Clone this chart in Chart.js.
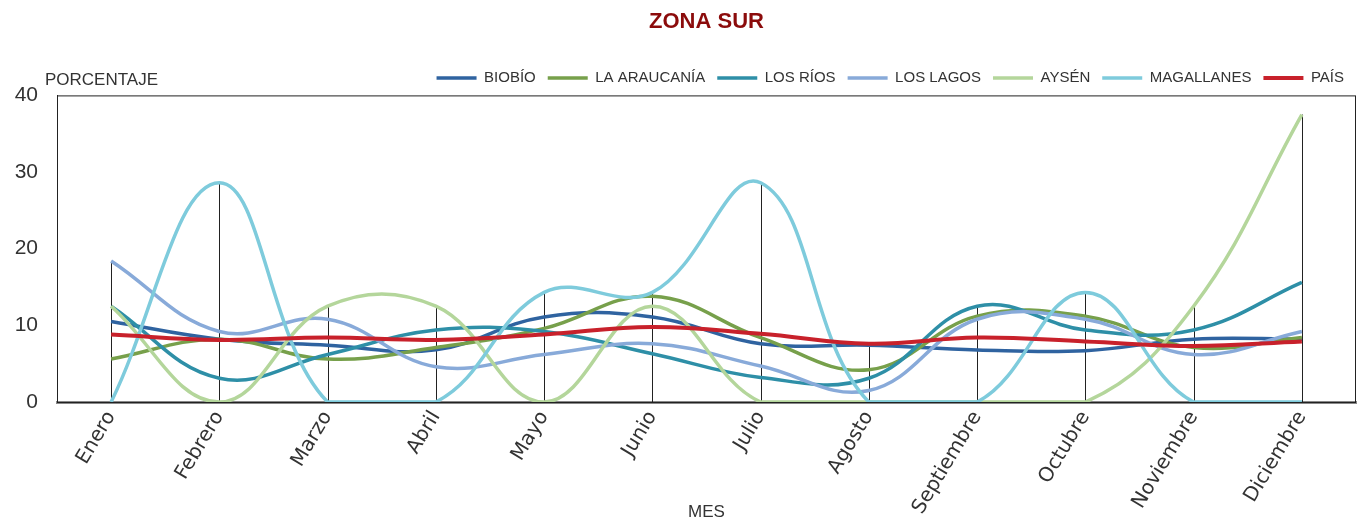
<!DOCTYPE html>
<html lang="es">
<head>
<meta charset="utf-8">
<title>Zona Sur</title>
<script src="https://cdn.jsdelivr.net/npm/chart.js@4.4.1/dist/chart.umd.min.js"></script>
<style>
  html, body { margin: 0; padding: 0; background: #fff; }
  #contenedor { width: 1358px; height: 523px; }
</style>
</head>
<body>
<div id="contenedor"><canvas id="graficoZonaSur"></canvas></div>
<script>
// porcentaje mensual de cada región (cada serie suma ~100)
const meses = ['Enero', 'Febrero', 'Marzo', 'Abril', 'Mayo', 'Junio', 'Julio', 'Agosto', 'Septiembre', 'Octubre', 'Noviembre', 'Diciembre'];
const biobio      = [10.5, 8.2, 7.4, 6.8, 11.1, 11.1, 7.6, 7.4, 6.8, 6.7, 8.2, 8.2];
const laAraucania = [5.6, 8.2, 5.6, 7.1, 9.6, 13.8, 8.4, 4.2, 11.2, 11.2, 7.1, 8.4];
const losRios     = [12.5, 3.1, 6.2, 9.4, 9.2, 6.3, 3.2, 3.1, 12.5, 9.4, 9.4, 15.6];
const losLagos    = [18.4, 9.2, 10.8, 4.6, 6.2, 7.6, 4.7, 1.5, 10.8, 10.8, 6.2, 9.2];
const aysen       = [12.5, 0, 12.5, 12.5, 0, 12.5, 0, 0, 0, 0, 12.5, 37.5];
const magallanes  = [0, 28.6, 0, 0, 14.3, 14.3, 28.6, 0, 0, 14.3, 0, 0];
const pais        = [8.8, 8.1, 8.4, 8.1, 8.8, 9.8, 8.9, 7.6, 8.4, 7.9, 7.3, 7.9];
const ticksY      = [0, 10, 20, 30, 40];

const regiones = [
  { nombre: 'BIOBÍO',       datos: biobio,      color: '#2f63a0' },
  { nombre: 'LA ARAUCANÍA', datos: laAraucania, color: '#77a04b' },
  { nombre: 'LOS RÍOS',     datos: losRios,     color: '#2e8fa7' },
  { nombre: 'LOS LAGOS',    datos: losLagos,    color: '#88aad9' },
  { nombre: 'AYSÉN',        datos: aysen,       color: '#b4d69b' },
  { nombre: 'MAGALLANES',   datos: magallanes,  color: '#7ecbdc' },
  { nombre: 'PAÍS',         datos: pais,        color: '#c8212b' }
];

Chart.defaults.font.family = "'Liberation Sans', 'DejaVu Sans', sans-serif";
Chart.defaults.color = '#333';

// líneas verticales desde el valor más alto de cada mes hasta cero, y marco del área
const lineasCaida = {
  id: 'lineasCaida',
  beforeDatasetsDraw(chart) {
    const { ctx, chartArea, scales: { x, y } } = chart;
    ctx.save();
    ctx.strokeStyle = '#222';
    ctx.lineWidth = 1;
    ctx.strokeRect(chartArea.left + 0.5, chartArea.top + 0.5, chartArea.width - 1, chartArea.height);
    meses.forEach((m, i) => {
      const maximo = Math.max(...chart.data.datasets.map(d => d.data[i]));
      const px = Math.round(x.getPixelForValue(i)) + 0.5;
      ctx.beginPath();
      ctx.moveTo(px, y.getPixelForValue(maximo));
      ctx.lineTo(px, y.getPixelForValue(0));
      ctx.stroke();
    });
    ctx.restore();
  }
};

// título centrado sobre el área de trazado y rótulo del eje Y arriba a la izquierda
const rotulos = {
  id: 'rotulos',
  afterLayout(chart) {
    if (chart.titleBlock) {
      chart.titleBlock.left = chart.chartArea.left;
      chart.titleBlock.right = chart.chartArea.right;
    }
  },
  afterDraw(chart) {
    const { ctx, chartArea } = chart;
    ctx.save();
    ctx.font = "17px 'Liberation Sans', sans-serif";
    ctx.fillStyle = '#333';
    ctx.textBaseline = 'middle';
    ctx.fillText('PORCENTAJE', chartArea.left - 12, chartArea.top - 15);
    ctx.restore();
  }
};

new Chart(document.getElementById('graficoZonaSur'), {
  type: 'line',
  data: {
    labels: meses,
    datasets: regiones.map((r, i) => ({
      label: r.nombre,
      data: r.datos,
      borderColor: r.color,
      backgroundColor: r.color,
      borderWidth: r.nombre === 'PAÍS' ? 4 : 3.5,
      pointRadius: 0,
      tension: 0.4,
      order: regiones.length - i
    }))
  },
  options: {
    responsive: true,
    maintainAspectRatio: false,
    animation: false,
    layout: { padding: { top: 9, left: 0, right: 2, bottom: 0 } },
    plugins: {
      title: {
        display: true,
        text: 'ZONA SUR',
        color: '#8b0b0b',
        font: { size: 22, weight: 'bold' },
        padding: { top: 0, bottom: 23 }
      },
      legend: {
        position: 'top',
        align: 'end',
        labels: {
          usePointStyle: true,
          pointStyle: 'line',
          pointStyleWidth: 40,
          boxHeight: 15,
          padding: 12,
          color: '#333',
          font: { size: 15 },
          sort: (a, b) => a.datasetIndex - b.datasetIndex
        }
      },
      tooltip: { enabled: false }
    },
    scales: {
      x: {
        offset: true,
        afterFit(scale) { scale.height = 121; },
        grid: { display: false, drawTicks: false },
        border: { color: '#888', width: 3 },
        ticks: {
          maxRotation: 59,
          minRotation: 59,
          padding: 5,
          color: '#333',
          font: { size: 20, family: "'DejaVu Sans', sans-serif" }
        },
        title: {
          display: true,
          text: 'MES',
          color: '#333',
          font: { size: 17 },
          padding: { top: 0, bottom: 0 }
        }
      },
      y: {
        min: 0,
        max: 40,
        afterBuildTicks(axis) { axis.ticks = ticksY.map(v => ({ value: v })); },
        afterFit(scale) { scale.width = 57; },
        grid: { display: false, drawTicks: false },
        border: { color: '#222', width: 1 },
        ticks: {
          padding: 19,
          color: '#333',
          font: { size: 21 }
        }
      }
    }
  },
  plugins: [lineasCaida, rotulos]
});
</script>
</body>
</html>
